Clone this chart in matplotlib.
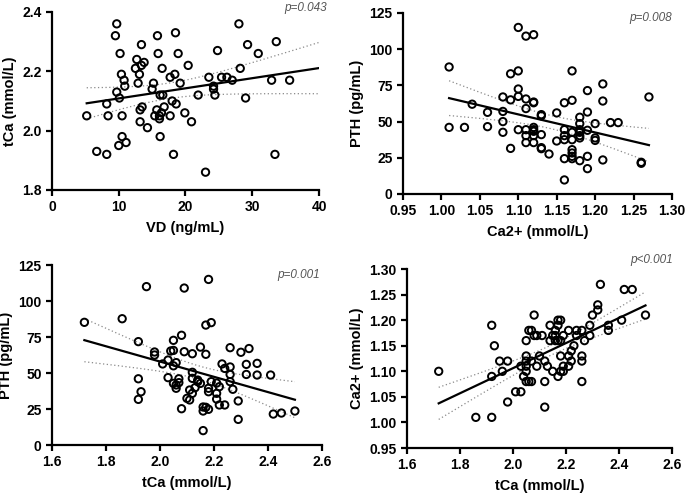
import numpy as np
import matplotlib
matplotlib.use("Agg")
import matplotlib.pyplot as plt

plt.rcParams['font.family'] = ['Liberation Sans', 'DejaVu Sans']

# Panel A: VD vs tCa
vd_x = [5.2, 6.7, 8.2, 8.2, 8.4, 9.5, 9.7, 9.7, 10.1, 10.2, 10.4, 10.5, 10.0, 10.5, 10.8, 10.9, 11.1,
        12.5, 12.7, 12.9, 13.1, 13.2, 13.2, 13.4, 13.4, 13.5, 13.8, 14.3, 15.0, 15.2, 15.4, 15.7, 15.8,
        15.9, 16.1, 16.1, 16.2, 16.2, 16.5, 16.6, 16.4, 16.8, 17.7, 17.7, 18.0, 18.2, 18.4, 18.5, 18.6,
        18.9, 19.2, 19.9, 20.4, 20.9, 21.9, 23.0, 23.5, 24.2, 24.2, 24.4, 24.8, 25.4, 26.2, 27.0, 28.0,
        28.2, 29.0, 29.3, 30.9, 32.9, 33.4, 33.6, 35.6]
vd_y = [2.05, 1.93, 1.92, 2.09, 2.05, 2.32, 2.36, 2.13, 2.11, 2.26, 2.19, 2.05, 1.95, 1.98, 2.17, 2.15, 1.96,
        2.21, 2.24, 2.16, 2.19, 2.07, 2.03, 2.29, 2.22, 2.08, 2.23, 2.01, 2.14, 2.16, 2.05, 2.07, 2.32,
        2.26, 2.05, 2.04, 2.12, 1.98, 2.21, 2.12, 2.06, 2.08, 2.05, 2.18, 2.10, 1.92, 2.19, 2.33, 2.09,
        2.26, 2.16, 2.06, 2.22, 2.03, 2.12, 1.86, 2.18, 2.15, 2.14, 2.12, 2.27, 2.18, 2.18, 2.17, 2.36,
        2.21, 2.11, 2.29, 2.26, 2.17, 1.92, 2.30, 2.17]

# Panel B: Ca2+ vs PTH
ca_x = [1.01, 1.01, 1.03, 1.04, 1.06, 1.06, 1.08, 1.08, 1.08, 1.08, 1.09, 1.09, 1.09, 1.10, 1.10, 1.10,
        1.10, 1.10, 1.11, 1.11, 1.11, 1.11, 1.11, 1.11, 1.12, 1.12, 1.12, 1.12, 1.12, 1.12, 1.12, 1.12,
        1.13, 1.13, 1.13, 1.13, 1.13, 1.14, 1.15, 1.15, 1.16, 1.16, 1.16, 1.16, 1.16, 1.16, 1.17, 1.17,
        1.17, 1.17, 1.17, 1.17, 1.17, 1.17, 1.18, 1.18, 1.18, 1.18, 1.18, 1.18, 1.18, 1.19, 1.19, 1.19,
        1.19, 1.19, 1.20, 1.20, 1.20, 1.21, 1.21, 1.21, 1.22, 1.23, 1.26, 1.26, 1.27]
pth_b = [87.7, 46.0, 46.0, 62.0, 56.4, 46.5, 67.0, 57.0, 50.0, 42.6, 83.0, 65.0, 31.5, 115.0, 85.0, 72.5,
         67.4, 44.4, 109.0, 65.6, 59.0, 44.4, 40.3, 35.5, 110.0, 63.5, 63.0, 46.0, 44.4, 40.3, 35.5, 43.3,
         54.8, 54.0, 41.0, 32.0, 31.3, 27.6, 56.0, 36.6, 63.0, 44.4, 40.3, 24.4, 9.7, 37.5, 85.0, 64.7,
         42.6, 37.5, 30.6, 28.3, 26.0, 24.4, 53.0, 48.6, 42.6, 40.3, 38.7, 23.0, 44.4, 71.4, 56.6, 44.0,
         26.0, 17.5, 48.6, 38.7, 37.0, 76.0, 64.2, 23.5, 49.3, 49.3, 21.9, 21.2, 67.0]

# Panel C: tCa vs PTH
tca_c = [1.72, 1.86, 1.92, 1.92, 1.92, 1.93, 1.95, 1.98, 1.98, 2.01, 2.03, 2.03, 2.04, 2.05, 2.05, 2.05,
         2.05, 2.06, 2.06, 2.06, 2.07, 2.07, 2.08, 2.08, 2.09, 2.09, 2.10, 2.11, 2.11, 2.12, 2.12, 2.12,
         2.12, 2.13, 2.14, 2.14, 2.15, 2.15, 2.16, 2.16, 2.16, 2.17, 2.17, 2.17, 2.18, 2.18, 2.18, 2.18,
         2.19, 2.19, 2.21, 2.21, 2.21, 2.22, 2.22, 2.23, 2.24, 2.24, 2.26, 2.26, 2.26, 2.26, 2.27, 2.29,
         2.29, 2.30, 2.32, 2.32, 2.33, 2.36, 2.36, 2.41, 2.42, 2.45, 2.50]
pth_c = [85.2, 87.7, 71.8, 46.0, 31.7, 37.0, 110.0, 64.6, 62.5, 56.3, 59.0, 46.8, 65.3, 72.7, 65.7, 55.0,
         42.8, 57.2, 41.7, 39.4, 46.0, 43.3, 76.2, 25.2, 109.0, 64.8, 32.4, 38.2, 31.3, 63.4, 50.5, 46.3,
         35.9, 39.8, 45.1, 44.0, 68.0, 42.8, 26.4, 23.6, 10.0, 63.0, 83.3, 26.2, 115.0, 39.4, 37.0, 24.8,
         85.0, 44.0, 43.0, 35.9, 31.9, 40.5, 27.8, 56.3, 53.2, 27.8, 67.6, 54.2, 49.0, 44.0, 38.7, 30.6,
         17.8, 64.4, 56.0, 49.0, 67.0, 56.7, 48.6, 48.6, 21.5, 22.2, 23.6]

# Panel D: tCa vs Ca2+
tca_d = [1.72, 1.86, 1.92, 1.92, 1.92, 1.93, 1.95, 1.96, 1.98, 1.98, 2.01, 2.03, 2.03, 2.04, 2.05, 2.05,
         2.05, 2.05, 2.05, 2.05, 2.06, 2.06, 2.07, 2.07, 2.07, 2.08, 2.08, 2.09, 2.09, 2.10, 2.11, 2.12,
         2.12, 2.12, 2.13, 2.14, 2.14, 2.15, 2.15, 2.16, 2.16, 2.16, 2.17, 2.17, 2.17, 2.17, 2.18, 2.18,
         2.18, 2.18, 2.19, 2.19, 2.19, 2.21, 2.21, 2.21, 2.22, 2.22, 2.23, 2.24, 2.24, 2.26, 2.26, 2.26,
         2.26, 2.27, 2.29, 2.29, 2.30, 2.32, 2.32, 2.33, 2.36, 2.36, 2.41, 2.42, 2.45, 2.50]
ca_d = [1.10, 1.01, 1.19, 1.09, 1.01, 1.15, 1.12, 1.10, 1.12, 1.04, 1.06, 1.06, 1.11, 1.09, 1.16, 1.13,
        1.12, 1.11, 1.10, 1.08, 1.08, 1.18, 1.18, 1.08, 1.12, 1.21, 1.17, 1.17, 1.11, 1.13, 1.17, 1.12,
        1.08, 1.03, 1.11, 1.19, 1.16, 1.17, 1.10, 1.18, 1.16, 1.17, 1.20, 1.19, 1.16, 1.09, 1.20, 1.16,
        1.13, 1.10, 1.17, 1.10, 1.11, 1.18, 1.13, 1.11, 1.14, 1.12, 1.15, 1.17, 1.18, 1.18, 1.13, 1.12,
        1.08, 1.16, 1.19, 1.17, 1.21, 1.23, 1.22, 1.27, 1.19, 1.18, 1.20, 1.26, 1.26, 1.21]

p_texts = ["p=0.043", "p=0.008", "p=0.001", "p<0.001"]

T_CRIT = 1.99


def fit_panel(ax, x, y, x_line):
    x = np.asarray(x, float)
    y = np.asarray(y, float)
    n = len(x)
    b, a = np.polyfit(x, y, 1)
    xs = np.linspace(x_line[0], x_line[1], 200)
    ys = a + b * xs
    resid = y - (a + b * x)
    s = np.sqrt(np.sum(resid ** 2) / (n - 2))
    sxx = np.sum((x - x.mean()) ** 2)
    se = s * np.sqrt(1.0 / n + (xs - x.mean()) ** 2 / sxx)
    ax.plot(xs, ys + T_CRIT * se, ls=(0, (1, 2)), color='#8a8a8a', lw=0.9, zorder=2)
    ax.plot(xs, ys - T_CRIT * se, ls=(0, (1, 2)), color='#8a8a8a', lw=0.9, zorder=2)
    ax.plot(xs, ys, color='black', lw=1.6, zorder=3)


def style(ax):
    for s in ['top', 'right']:
        ax.spines[s].set_visible(False)
    for s in ['left', 'bottom']:
        ax.spines[s].set_linewidth(1.6)
    ax.tick_params(width=1.6, length=4, labelsize=10, direction='out')
    for lab in ax.get_xticklabels() + ax.get_yticklabels():
        lab.set_fontweight('bold')


fig = plt.figure(figsize=(6.85, 4.95), dpi=100)

panels = [
    dict(rect=[0.0759, 0.6162, 0.3898, 0.3596], x=vd_x, y=vd_y, xl=(0, 40), yl=(1.8, 2.4),
         xt=[0, 10, 20, 30, 40], yt=[1.8, 2.0, 2.2, 2.4], xfmt='{:.0f}', yfmt='{:.1f}',
         xlabel='VD (ng/mL)', ylabel='tCa (mmol/L)', line=(5.2, 40), ptxt=(1.03, 1.022)),
    dict(rect=[0.5883, 0.6081, 0.3927, 0.3657], x=ca_x, y=pth_b, xl=(0.95, 1.30), yl=(0, 125),
         xt=[0.95, 1.00, 1.05, 1.10, 1.15, 1.20, 1.25, 1.30], yt=[0, 25, 50, 75, 100, 125],
         xfmt='{:.2f}', yfmt='{:.0f}',
         xlabel='Ca2+ (mmol/L)', ylabel='PTH (pg/mL)', line=(1.01, 1.27), ptxt=(1.0, 0.972)),
    dict(rect=[0.0759, 0.1010, 0.3940, 0.3636], x=tca_c, y=pth_c, xl=(1.6, 2.6), yl=(0, 125),
         xt=[1.6, 1.8, 2.0, 2.2, 2.4, 2.6], yt=[0, 25, 50, 75, 100, 125], xfmt='{:.1f}', yfmt='{:.0f}',
         xlabel='tCa (mmol/L)', ylabel='PTH (pg/mL)', line=(1.72, 2.50), ptxt=(0.993, 0.944)),
    dict(rect=[0.5940, 0.0949, 0.3870, 0.3616], x=tca_d, y=ca_d, xl=(1.6, 2.6), yl=(0.95, 1.30),
         xt=[1.6, 1.8, 2.0, 2.2, 2.4, 2.6], yt=[0.95, 1.00, 1.05, 1.10, 1.15, 1.20, 1.25, 1.30],
         xfmt='{:.1f}', yfmt='{:.2f}',
         xlabel='tCa (mmol/L)', ylabel='Ca2+ (mmol/L)', line=(1.72, 2.50), ptxt=(1.004, 1.05)),
]

for i, p in enumerate(panels):
    ax = fig.add_axes(p['rect'])
    ax.scatter(p['x'], p['y'], s=28, facecolors='none', edgecolors='black', linewidths=1.4, zorder=4,
               clip_on=False)
    fit_panel(ax, p['x'], p['y'], p['line'])
    ax.set_xlim(*p['xl'])
    ax.set_ylim(*p['yl'])
    ax.set_xticks(p['xt'])
    ax.set_yticks(p['yt'])
    ax.set_xticklabels([p['xfmt'].format(v) for v in p['xt']])
    ax.set_yticklabels([p['yfmt'].format(v) for v in p['yt']])
    ax.set_xlabel(p['xlabel'], fontsize=10.5, fontweight='bold', labelpad=5)
    ax.set_ylabel(p['ylabel'], fontsize=10.5, fontweight='bold', labelpad=4)
    style(ax)
    ax.text(p['ptxt'][0], p['ptxt'][1], p_texts[i], transform=ax.transAxes, ha='right', va='center',
            fontsize=8.5, style='italic', color='#555555')

fig.savefig('out.png', dpi=100)
